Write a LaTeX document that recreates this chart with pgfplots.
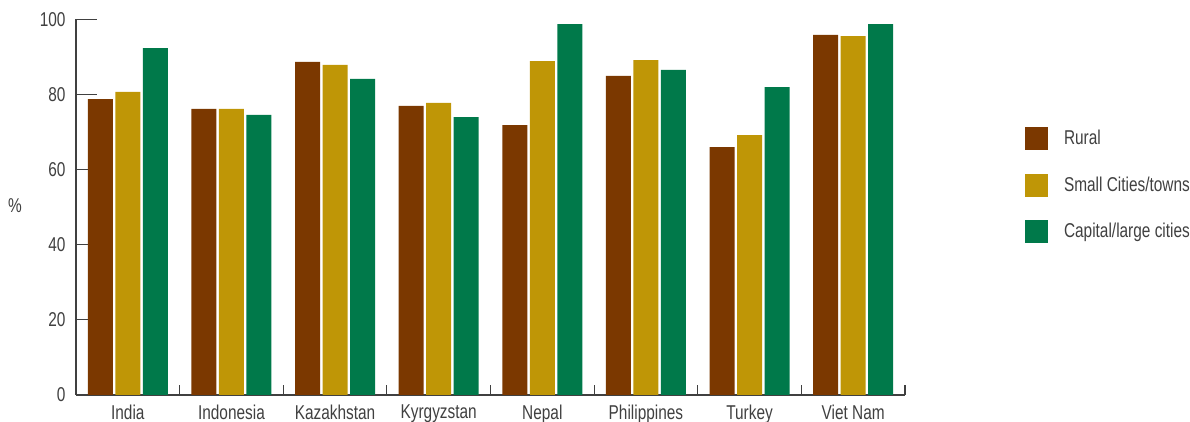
\documentclass[border=0pt]{standalone}
\usepackage{fontspec}
\setmainfont{Liberation Sans}[FakeStretch=0.77]
\usepackage{pgfplots}
\pgfplotsset{compat=1.18}
\definecolor{rural}{HTML}{7B3800}
\definecolor{small}{HTML}{BF9606}
\definecolor{capital}{HTML}{00794A}
\definecolor{txt}{HTML}{404040}
\begin{document}
\begin{tikzpicture}[x=1pt,y=1pt]
\useasboundingbox (0,0) rectangle (1190,422);
\begin{axis}[
  at={(76pt,27pt)}, anchor=south west,
  scale only axis, width=829pt, height=375.5pt,
  font=\fontsize{20}{23}\selectfont\color{txt},
  /pgf/number format/assume math mode=true,
  ybar=2.5pt, bar width=25pt,
  xmin=-0.5, xmax=7.5, ymin=0, ymax=100,
  axis x line*=bottom, axis y line*=left,
  axis line style={draw=black!75, line width=1.2pt},
  xtick={0,...,7},
  xticklabels={India,Indonesia,Kazakhstan,Kyrgyzstan,Nepal,Philippines,Turkey,Viet Nam},
  xtick style={draw=none},
  minor xtick={-0.5,0.5,...,7.5},
  minor tick length=10pt,
  minor x tick style={draw=black!75, line width=1.2pt},
  ytick={0,20,...,100},
  major tick length=21pt,
  tick align=inside,
  y tick style={draw=black!75, line width=1.2pt},
  yticklabel style={xshift=-7pt},
  xticklabel style={yshift=-6pt},
  ylabel={\%},
  ylabel style={rotate=-90, at={(axis description cs:-0.0736,0.503)}, anchor=center},
  legend image code/.code={\fill[#1,draw=none] (0pt,-11.5pt) rectangle (23pt,11.5pt);},
  legend style={at={(axis description cs:1.1448,0.7137)}, anchor=north west,
    draw=none, fill=none, inner sep=0pt, outer sep=0pt, row sep=23.5pt,
    font=\fontsize{20}{23}\selectfont\color{txt},
    nodes={inner sep=0pt, anchor=west},
    /tikz/every odd column/.append style={column sep=16pt}},
  legend cell align=left,
]
\addplot[fill=rural, draw=none] coordinates {(0,78.8) (1,76.2) (2,88.7) (3,77.0) (4,71.9) (5,85.0) (6,66.0) (7,95.9)};
\addplot[fill=small, draw=none] coordinates {(0,80.7) (1,76.2) (2,87.9) (3,77.8) (4,88.9) (5,89.2) (6,69.2) (7,95.6)};
\addplot[fill=capital, draw=none] coordinates {(0,92.4) (1,74.6) (2,84.2) (3,74.0) (4,98.8) (5,86.6) (6,82.0) (7,98.8)};
\legend{Rural, Small Cities/towns, Capital/large cities}
\end{axis}
\end{tikzpicture}
\end{document}
